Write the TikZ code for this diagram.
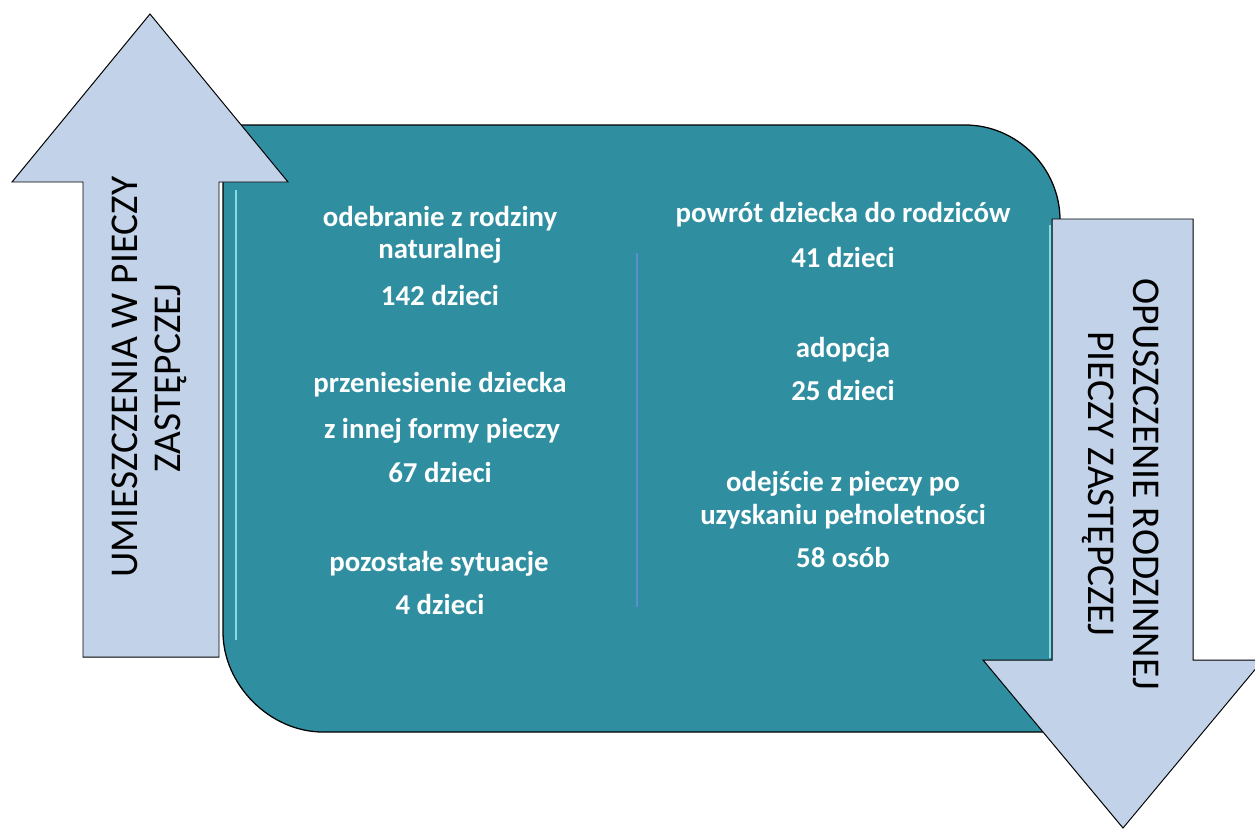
\documentclass[tikz,border=0pt]{standalone}
\usepackage{fontspec}
\setmainfont{Carlito}
\usepackage{tikz}
\usetikzlibrary{positioning}
\definecolor{boxteal}{HTML}{2F8FA1}
\definecolor{arrowblue}{HTML}{C2D2E8}
\definecolor{divline}{HTML}{5B8FCC}
\definecolor{glow}{HTML}{9FEFF8}

\begin{document}
\begin{tikzpicture}[x=0.025cm, y=-0.025cm,
		every node/.style={inner sep=0pt, anchor=base},
		itemtext/.style={text=white, font=\fontsize{20.5}{24}\selectfont\bfseries},
		arrowtext/.style={text=black, font=\fontsize{28}{31}\selectfont},
		bigarrow/.style={fill=arrowblue, draw=black, line width=0.7pt, line join=miter}]
	\useasboundingbox (0,0) rectangle (1255,828);
	\clip (0,0) rectangle (1255,828);
	% central box
	\draw[fill=boxteal, line width=0.9pt] (223,125) -- (965,125) .. controls (1017,125) and (1060,168) .. (1060,220)
		-- (1060,732) -- (323,732) .. controls (270,732) and (223,685) .. (223,632) -- cycle;
	\draw[glow, line width=2pt, opacity=0.8] (236,190) -- (236,640);
	\draw[glow, line width=2pt, opacity=0.8] (1050,225) -- (1050,658);
	\draw[divline, line width=1.5pt] (637,253) -- (637,607);
	% arrows
	\draw[bigarrow] (83,657) -- (83,182) -- (12,182) -- (150,14) -- (288,182) -- (219,182) -- (219,657) -- cycle;
	\draw[bigarrow] (1052,219) -- (1193,219) -- (1193,660) -- (1263,660) -- (1123,828) -- (983,660) -- (1052,660) -- cycle;
	\node[arrowtext, rotate=90] (umieszczenia) at (137,377) {UMIESZCZENIA W PIECZY};
	\node[arrowtext, rotate=90] (zastepczej) at (180,378) {ZASTĘPCZEJ};
	\node[arrowtext, rotate=-90] (opuszczenie) at (1133,484) {OPUSZCZENIE RODZINNEJ};
	\node[arrowtext, rotate=-90] (pieczy) at (1088,484) {PIECZY ZASTĘPCZEJ};
	% left column
	\node[itemtext] (odebranie) at (440,226) {odebranie z rodziny};
	\node[itemtext] (naturalnej) at (440,258) {naturalnej};
	\node[itemtext] (n142) at (440,305) {142 dzieci};
	\node[itemtext] (przeniesienie) at (440,392) {przeniesienie dziecka};
	\node[itemtext] (innej) at (442,438) {z innej formy pieczy};
	\node[itemtext] (n67) at (440,482) {67 dzieci};
	\node[itemtext] (pozostale) at (439,571) {pozostałe sytuacje};
	\node[itemtext] (n4) at (440,614) {4 dzieci};
	% right column
	\node[itemtext] (powrot) at (843,222) {powrót dziecka do rodziców};
	\node[itemtext] (n41) at (843,267) {41 dzieci};
	\node[itemtext] (adopcja) at (843,357) {adopcja};
	\node[itemtext] (n25) at (843,400) {25 dzieci};
	\node[itemtext] (odejscie) at (843,491) {odejście z pieczy po};
	\node[itemtext] (uzyskaniu) at (843,524) {uzyskaniu pełnoletności};
	\node[itemtext] (n58) at (843,567) {58 osób};
\end{tikzpicture}
\end{document}
